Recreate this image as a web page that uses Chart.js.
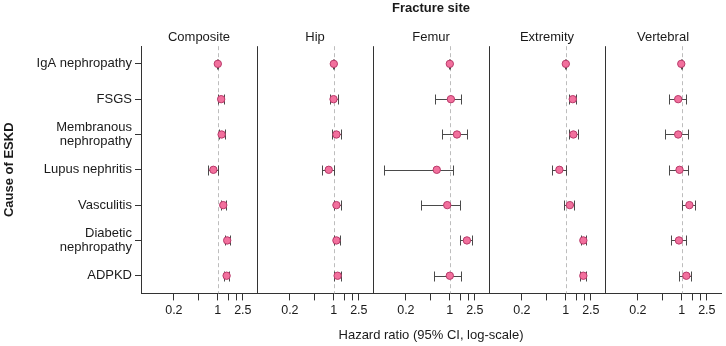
<!DOCTYPE html>
<html lang="en">
<head>
<meta charset="UTF-8">
<title>Fracture site by cause of ESKD</title>
<style>
    html, body {
        margin: 0;
        padding: 0;
        background: #fff;
    }
    .chart-box {
        position: relative;
        width: 726px;
        height: 346px;
    }
</style>
</head>
<body>
<div class="chart-box"><canvas id="chart"></canvas></div>

<script src="https://cdn.jsdelivr.net/npm/chart.js"></script>
<script>
    var causes = ['IgA nephropathy', 'FSGS', ['Membranous', 'nephropathy'], 'Lupus nephritis',
                  'Vasculitis', ['Diabetic', 'nephropathy'], 'ADPKD'];
    var sites = ['Composite', 'Hip', 'Femur', 'Extremity', 'Vertebral'];

    // hazard ratios with 95% CI, one row per cause
    var compositeHR = [1.00, 1.13, 1.15, 0.85, 1.22, 1.41, 1.38];
    var compositeLo = [0.98, 1.02, 1.03, 0.71, 1.11, 1.30, 1.27];
    var compositeHi = [1.02, 1.24, 1.32, 0.99, 1.36, 1.54, 1.50];

    var hipHR = [1.00, 0.99, 1.10, 0.83, 1.10, 1.10, 1.15];
    var hipLo = [0.98, 0.86, 0.94, 0.65, 0.99, 1.00, 1.02];
    var hipHi = [1.02, 1.17, 1.30, 1.02, 1.29, 1.26, 1.31];

    var femurHR = [1.00, 1.04, 1.30, 0.62, 0.91, 1.87, 1.00];
    var femurLo = [0.98, 0.58, 0.74, 0.091, 0.35, 1.47, 0.57];
    var femurHi = [1.02, 1.49, 1.87, 1.14, 1.47, 2.25, 1.49];

    var extremityHR = [1.00, 1.29, 1.32, 0.79, 1.16, 1.90, 1.90];
    var extremityLo = [0.98, 1.11, 1.13, 0.60, 0.94, 1.74, 1.71];
    var extremityHi = [1.02, 1.45, 1.54, 1.00, 1.37, 2.12, 2.12];

    var vertebralHR = [0.98, 0.875, 0.875, 0.92, 1.32, 0.90, 1.18];
    var vertebralLo = [0.96, 0.62, 0.55, 0.62, 1.02, 0.67, 0.91];
    var vertebralHi = [1.00, 1.16, 1.24, 1.27, 1.62, 1.17, 1.40];

    var tickValues = [0.2, 0.5, 1, 1.5, 2, 2.5];
    var tickLabels = [0.2, 1, 2.5];

    var hrBySite = [compositeHR, hipHR, femurHR, extremityHR, vertebralHR];
    var loBySite = [compositeLo, hipLo, femurLo, extremityLo, vertebralLo];
    var hiBySite = [compositeHi, hipHi, femurHi, extremityHi, vertebralHi];

    Chart.defaults.font.family = '"Liberation Sans", Arial, sans-serif';
    Chart.defaults.color = '#1a1a1a';

    var datasets = sites.map(function(site, k) {
        return {
            label: site,
            xAxisID: 'x' + k,
            yAxisID: 'y',
            data: hrBySite[k].map(function(v, i) { return {x: v, y: i}; }),
            pointRadius: 3.7,
            pointBackgroundColor: '#f2709d',
            pointBorderColor: '#b83a6a',
            pointBorderWidth: 1
        };
    });

    var scales = {
        y: {
            type: 'category',
            labels: causes,
            offset: true,
            position: 'left',
            grid: {drawOnChartArea: false, offset: false, tickLength: 6, color: '#333'},
            border: {color: '#333'},
            ticks: {font: {size: 13, lineHeight: 1.1}, padding: 3, color: '#1a1a1a'},
            title: {display: true, text: 'Cause of ESKD', font: {size: 13, weight: 'bold'}, padding: {top: 2, bottom: 0}},
            afterFit: function(s) { s.width = 141; }
        }
    };

    sites.forEach(function(site, k) {
        scales['x' + k] = {
            type: 'logarithmic',
            position: 'bottom',
            stack: 'panels',
            stackWeight: 1,
            min: 0.06,
            max: 4.2,
            bounds: 'data',
            grid: {drawOnChartArea: false, tickLength: 7, color: '#333'},
            border: {color: '#333'},
            ticks: {
                autoSkip: false,
                maxRotation: 0,
                padding: 3,
                font: {size: 12.5},
                color: '#1a1a1a',
                callback: function(v) { return tickLabels.indexOf(v) >= 0 ? String(v) : ''; }
            },
            afterBuildTicks: function(s) {
                s.ticks = tickValues.map(function(v) { return {value: v}; });
            }
        };
    });

    // panel headings as title-only axes; top boxes are laid out in reverse order
    for (var k = sites.length - 1; k >= 0; k--) {
        scales['t' + k] = {
            type: 'linear',
            position: 'top',
            stack: 'heads',
            stackWeight: 1,
            display: true,
            grid: {display: false, drawTicks: false},
            border: {display: false},
            ticks: {display: false},
            title: {display: true, text: sites[k], font: {size: 13}, padding: {top: 0, bottom: 1}}
        };
    }

    // CI whiskers, the dashed line at HR = 1 and the panel dividers
    var forestPlugin = {
        id: 'forest',
        beforeDatasetsDraw: function(chart) {
            var ctx = chart.ctx;
            var area = chart.chartArea;
            var yScale = chart.scales.y;
            ctx.save();
            sites.forEach(function(site, k) {
                var xs = chart.scales['x' + k];

                var x1 = Math.round(xs.getPixelForValue(1)) + 0.5;
                ctx.strokeStyle = '#bdbdbd';
                ctx.lineWidth = 1;
                ctx.setLineDash([4, 3]);
                ctx.beginPath();
                ctx.moveTo(x1, area.top);
                ctx.lineTo(x1, area.bottom);
                ctx.stroke();
                ctx.setLineDash([]);

                if (k > 0) {
                    var xl = Math.round(xs.left) + 0.5;
                    ctx.strokeStyle = '#333';
                    ctx.beginPath();
                    ctx.moveTo(xl, area.top);
                    ctx.lineTo(xl, area.bottom);
                    ctx.stroke();
                }

                ctx.strokeStyle = '#4a4a4a';
                hrBySite[k].forEach(function(v, i) {
                    var y = Math.round(yScale.getPixelForValue(i)) + 0.5;
                    var a = Math.round(xs.getPixelForValue(loBySite[k][i])) + 0.5;
                    var b = Math.round(xs.getPixelForValue(hiBySite[k][i])) + 0.5;
                    ctx.beginPath();
                    ctx.moveTo(a, y);
                    ctx.lineTo(b, y);
                    ctx.moveTo(a, y - 5);
                    ctx.lineTo(a, y + 5);
                    ctx.moveTo(b, y - 5);
                    ctx.lineTo(b, y + 5);
                    ctx.stroke();
                });
            });
            ctx.restore();
        }
    };

    new Chart(document.getElementById('chart').getContext('2d'), {
        type: 'scatter',
        data: {datasets: datasets},
        options: {
            responsive: true,
            maintainAspectRatio: false,
            animation: false,
            events: [],
            layout: {padding: 0},
            scales: scales,
            plugins: {
                legend: {display: false},
                tooltip: {enabled: false},
                title: {
                    display: true,
                    text: 'Fracture site',
                    fullSize: false,
                    font: {size: 13, weight: 'bold'},
                    color: '#1a1a1a',
                    padding: {top: 1, bottom: 13}
                },
                subtitle: {
                    display: true,
                    text: 'Hazard ratio (95% CI, log-scale)',
                    position: 'bottom',
                    fullSize: false,
                    font: {size: 13},
                    color: '#1a1a1a',
                    padding: {top: 6, bottom: 3}
                }
            }
        },
        plugins: [forestPlugin]
    });
</script>
</body>
</html>
